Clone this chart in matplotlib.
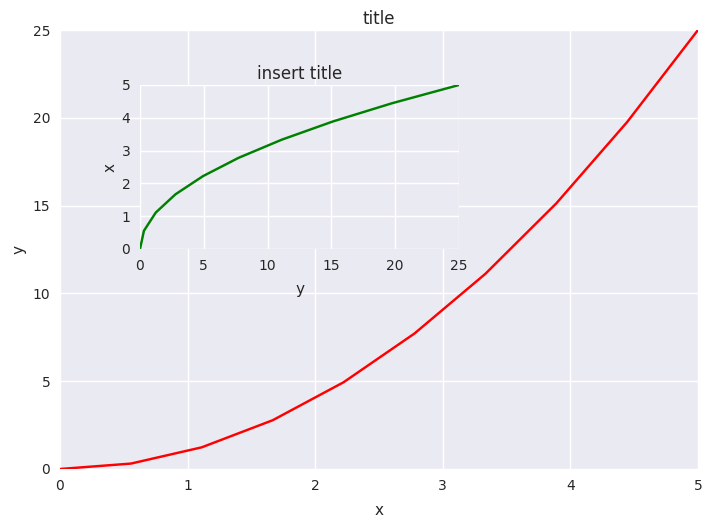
import matplotlib
matplotlib.use("Agg")
import matplotlib.pyplot as plt

plt.style.use("seaborn-v0_8")
plt.rcParams["font.family"] = ["DejaVu Sans"]

x = [0.0, 0.556, 1.111, 1.667, 2.222, 2.778, 3.333, 3.889, 4.444, 5.0]
y = [0.0, 0.309, 1.235, 2.778, 4.938, 7.716, 11.111, 15.123, 19.753, 25.0]

W, H = 713, 526
fig = plt.figure(figsize=(W / 100, H / 100), dpi=100)

ax1 = fig.add_axes([60 / W, (H - 469) / H, 638 / W, 439 / H])
ax2 = fig.add_axes([140 / W, (H - 249) / H, 319 / W, 164 / H])

ax1.plot(x, y, "r")
ax1.set_xlabel("x", labelpad=7.5)
ax1.set_ylabel("y", labelpad=4.5)
ax1.set_title("title", pad=4.5)
ax1.set_xlim(0, 5)
ax1.set_ylim(0, 25)

ax2.plot(y, x, "g")
ax2.set_xlabel("y", labelpad=7)
ax2.set_ylabel("x", labelpad=3)
ax2.set_title("insert title", pad=4.5)
ax2.set_xlim(0, 25)
ax2.set_ylim(0, 5)

fig.savefig("out.png", dpi=100)
